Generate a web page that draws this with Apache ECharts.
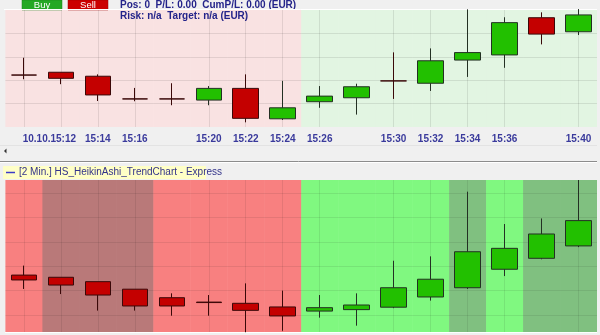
<!DOCTYPE html>
<html><head><meta charset="utf-8">
<script src="https://cdn.jsdelivr.net/npm/echarts@6/dist/echarts.min.js"></script>
<style>
html,body{margin:0;padding:0;background:#f0f0f0;width:600px;height:335px;overflow:hidden}
#c{position:absolute;left:0;top:0;width:597px;height:335px}
</style></head><body><div id="c"></div>
<script>
// ---- data ----
const categories = ['15:10','15:12','15:14','15:16','15:18','15:20','15:22','15:24','15:26','15:28','15:30','15:32','15:34','15:36','15:38','15:40'];
const tickLabels = ['', '10.10.15:12', '15:14', '15:16', '', '15:20', '15:22', '15:24', '15:26', '', '15:30', '15:32', '15:34', '15:36', '', '15:40'];
const gridLineAt = [1,1,1,1,0,1,1,1,1,0,1,1,1,1,0,1];

// price chart (top)
const priceOpen  = [22.2, 23.4, 21.7, 12.0, 12.0, 11.5, 16.5, 3.5, 10.8, 12.5, 19.7, 18.7, 28.6, 30.8, 46.7, 40.7];
const priceClose = [22.2, 20.8, 13.7, 12.0, 12.0, 16.5, 3.7, 8.2, 13.2, 17.2, 19.7, 28.3, 31.8, 44.6, 39.7, 47.9];
const priceLow   = [20.4, 18.3, 11.1, 11.0, 9.3, 9.3, 2.0, 3.0, 8.2, 5.3, 12.0, 15.4, 21.4, 25.3, 35.3, 39.3];
const priceHigh  = [29.6, 23.4, 22.5, 16.7, 18.7, 17.5, 22.5, 19.7, 17.5, 18.5, 31.9, 33.6, 50.3, 46.9, 49.0, 50.4];
const priceZone  = ['down','down','down','down','down','down','down','down','up','up','up','up','up','up','up','up'];

// Heikin-Ashi trend chart (bottom)
const haOpen  = [16.4, 15.5, 13.7, 10.6, 7.1, 5.3, 4.8, 3.3, 1.6, 2.2, 3.2, 7.4, 11.2, 18.8, 23.3, 28.4];
const haClose = [14.4, 12.3, 8.2, 3.7, 3.7, 5.1, 1.9, -0.4, 3.0, 4.1, 11.2, 14.7, 26.0, 27.4, 33.3, 38.8];
const haLow   = [10.7, 8.6, 1.8, 1.8, -0.3, -0.3, -7.1, -6.5, -1.1, -4.4, 2.8, 5.9, 10.7, 16.0, 22.9, 27.9];
const haHigh  = [20.3, 15.5, 13.7, 10.6, 8.9, 8.2, 13.0, 10.0, 8.2, 8.9, 22.3, 24.1, 50.7, 37.4, 39.7, 55.5];
const haZone  = ['down','downStrong','downStrong','downStrong','down','down','down','down','up','up','up','up','upStrong','up','upStrong','upStrong'];

// ---- styles ----
const FONT = "'Liberation Sans Narrow', 'Liberation Sans', Arial, sans-serif";
const LABEL_COLOR = '#3a3a9c';
const topColors = {down:'#f9e2e2', up:'#e2f5e2'};
const haColors = {down:'#f88080', downStrong:'#b97979', up:'#80f880', upStrong:'#80c080'};
const candleStyle = {color:'#22c000', color0:'#c40000', borderColor:'#233023', borderColor0:'#3a0808', borderColorDoji:'#3a0808', borderWidth:1};

function zoneSeries(idx, zones, colors){
  return {
    type:'custom', xAxisIndex:idx, yAxisIndex:idx, z:-1, silent:true, clip:false,
    data: zones.map((z,i)=>[i, 0]),
    encode:{x:0, y:1},
    renderItem(params, api){
      const i = params.dataIndex;
      const cs = params.coordSys;
      const cx = api.coord([i, 0])[0];
      const w = api.size([1, 0])[0];
      return {type:'rect', shape:{x:cx - w/2, y:cs.y, width:w + 0.6, height:cs.height},
        style:{fill: colors[zones[i]]}};
    }
  };
}

const labelBase = {margin:7, color:LABEL_COLOR, fontSize:10, fontWeight:'bold', fontFamily:FONT, hideOverlap:false};

function xAxis(idx, showLabels, lineColor){
  return {
    type:'category', gridIndex:idx, data:categories, boundaryGap:true, position:'bottom',
    axisLine:{show:false}, axisTick:{show:false},
    axisLabel:Object.assign({}, labelBase, {
      show:showLabels,
      interval:(i)=>tickLabels[i] !== '' && tickLabels[i].length <= 5,
      formatter:(v, i)=>tickLabels[i]
    }),
    splitLine:{show:true, alignWithLabel:true, interval:(i)=>gridLineAt[i] === 1, lineStyle:{color:lineColor, width:1}}
  };
}

// separate axis for the dated first label, time part centred on its candle
const dateLabelAxis = {
  type:'category', gridIndex:0, data:categories, boundaryGap:true, position:'bottom',
  axisLine:{show:false}, axisTick:{show:false}, splitLine:{show:false},
  axisLabel:Object.assign({}, labelBase, {
    showMinLabel:true,
    interval:(i)=>tickLabels[i].length > 5,
    formatter:(v, i)=>{
      const s = tickLabels[i];
      return '{d|' + s.slice(0, -5) + '}{t|' + s.slice(-5) + '}{p|}';
    },
    rich:{
      d:{color:LABEL_COLOR, fontSize:10, fontWeight:'bold', fontFamily:FONT},
      t:{color:LABEL_COLOR, fontSize:10, fontWeight:'bold', fontFamily:FONT},
      p:{width:23}
    }
  })
};

const chart = echarts.init(document.getElementById('c'), null, {renderer:'canvas'});
chart.setOption({
  animation:false,
  backgroundColor:'transparent',
  grid:[
    {left:5.4, top:10, width:596.3, height:117},
    {left:5.4, top:180, width:596.3, height:152}
  ],
  xAxis:[ xAxis(0, true, 'rgba(0,0,0,0.09)'), xAxis(1, false, 'rgba(0,0,0,0.08)'), dateLabelAxis ],
  yAxis:[
    {type:'value', gridIndex:0, min:0, max:50, interval:10,
     axisLine:{show:false}, axisTick:{show:false}, axisLabel:{show:false},
     splitLine:{show:true, showMinLine:false, showMaxLine:false, lineStyle:{color:'rgba(0,0,0,0.09)'}}},
    {type:'value', gridIndex:1, min:-7, max:55.5, splitNumber:5,
     axisLine:{show:false}, axisTick:{show:false}, axisLabel:{show:false},
     splitLine:{show:true, showMinLine:false, showMaxLine:false, lineStyle:{color:'rgba(0,0,0,0.08)'}}}
  ],
  series:[
    zoneSeries(0, priceZone, topColors),
    zoneSeries(1, haZone, haColors),
    {type:'candlestick', name:'Price', xAxisIndex:0, yAxisIndex:0, barWidth:26,
     data: categories.map((_, i)=>[priceOpen[i], priceClose[i], priceLow[i], priceHigh[i]]),
     itemStyle:candleStyle},
    {type:'candlestick', name:'HS_HeikinAshi_TrendChart', xAxisIndex:1, yAxisIndex:1, barWidth:26,
     data: categories.map((_, i)=>[haOpen[i], haClose[i], haLow[i], haHigh[i]]),
     itemStyle:candleStyle}
  ],
  graphic:[
    // buttons
    {type:'rect', shape:{x:22, y:0, width:40, height:10}, style:{fill:'#24a824', stroke:'#1a801a', lineWidth:0.5}},
    {type:'text', x:42, y:5, style:{text:'Buy', fill:'#ffffff', fontSize:9.5, fontFamily:FONT, align:'center', verticalAlign:'middle'}},
    {type:'rect', shape:{x:68, y:0, width:40, height:10}, style:{fill:'#cc0000', stroke:'#990000', lineWidth:0.5}},
    {type:'text', x:88, y:5, style:{text:'Sell', fill:'#ffffff', fontSize:9.5, fontFamily:FONT, align:'center', verticalAlign:'middle'}},
    // status text
    {type:'text', x:120, y:5, style:{text:'Pos: 0  P/L: 0.00  CumP/L: 0.00 (EUR)', fill:'#24248a', fontSize:10, fontWeight:'bold', fontFamily:FONT, verticalAlign:'middle'}},
    {type:'text', x:120, y:16, style:{text:'Risk: n/a  Target: n/a (EUR)', fill:'#24248a', fontSize:10, fontWeight:'bold', fontFamily:FONT, verticalAlign:'middle'}},
    // frame lines
    {type:'line', shape:{x1:4, y1:9.5, x2:597, y2:9.5}, style:{stroke:'#ffffff', lineWidth:1}},
    {type:'line', shape:{x1:0, y1:145.5, x2:597, y2:145.5}, style:{stroke:'#e3e3e3', lineWidth:1}},
    {type:'polygon', shape:{points:[[4,151],[6.5,148.5],[6.5,153.5]]}, style:{fill:'#333333'}},
    {type:'line', shape:{x1:0, y1:161.5, x2:597, y2:161.5}, style:{stroke:'#8c8c8c', lineWidth:1}},
    {type:'line', shape:{x1:0, y1:162.5, x2:597, y2:162.5}, style:{stroke:'#ffffff', lineWidth:1}},
    {type:'line', shape:{x1:5, y1:332.5, x2:597, y2:332.5}, style:{stroke:'#ffffff', lineWidth:1}},
    // legend box
    {type:'rect', shape:{x:3, y:166, width:203, height:13}, style:{fill:'#ffffc6'}},
    {type:'line', shape:{x1:6, y1:172.5, x2:15, y2:172.5}, style:{stroke:'#3c3cc8', lineWidth:1.5}},
    {type:'text', x:19, y:172.5, style:{text:'[2 Min.] HS_HeikinAshi_TrendChart - Express', fill:'#33338a', fontSize:10, fontFamily:FONT, verticalAlign:'middle'}}
  ]
});
</script></body></html>
